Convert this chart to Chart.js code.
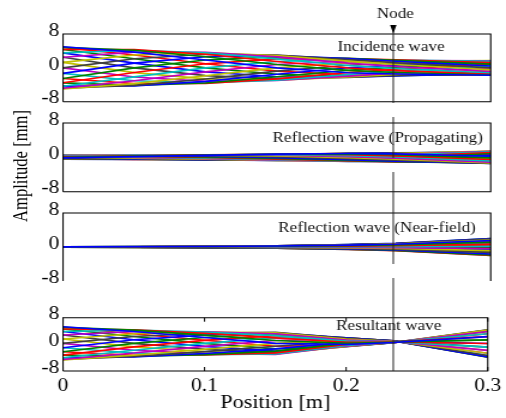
<!DOCTYPE html>
<html><head><meta charset="utf-8">
<script src="https://cdn.jsdelivr.net/npm/chart.js@4.4.1/dist/chart.umd.min.js"></script>
<style>
html,body{margin:0;padding:0;background:#fff;overflow:hidden;width:506px;height:418px;}
#fig{position:absolute;left:0;top:0;width:422px;height:418px;transform:scaleX(1.19905);transform-origin:0 0;}
.panel{position:absolute;left:0;top:0;width:422px;height:418px;}
#ylab{position:absolute;left:18px;top:166px;font-family:"Liberation Serif","Times New Roman",serif;font-size:16.6px;line-height:1;white-space:nowrap;color:#000;transform:translate(-50%,-50%) rotate(-90deg);}
</style></head>
<body>
<div id="fig">
  <div class="panel"><canvas id="c0"></canvas></div>
  <div class="panel"><canvas id="c1"></canvas></div>
  <div class="panel"><canvas id="c2"></canvas></div>
  <div class="panel"><canvas id="c3"></canvas></div>
  <div id="ylab">Amplitude [mm]</div>
</div>
<script>
// ---------- data ----------
const positions = [0, 0.05, 0.1, 0.15, 0.2, 0.2333, 0.3];
const nodePosition = 0.2333;
const yTickValues = [-8, 0, 8];
const xTickValues = [0, 0.1, 0.2, 0.3];
const panelTitles = ['Incidence wave', 'Reflection wave (Propagating)', 'Reflection wave (Near-field)', 'Resultant wave'];
const nodeLabel = 'Node';
const xAxisTitle = 'Position [m]';
const yAxisTitle = 'Amplitude [mm]';

const incidenceWave = [
  [5, 3.72, 1.85, 0, -1.15, -1.46, -1.75],
  [4.83, 4.15, 2.62, 0.78, -0.60, -1.09, -1.69],
  [4.33, 4.30, 3.20, 1.50, -0.02, -0.65, -1.52],
  [3.54, 4.15, 3.57, 2.12, 0.57, -0.17, -1.24],
  [2.5, 3.72, 3.70, 2.60, 1.11, 0.33, -0.88],
  [1.30, 3.04, 3.57, 2.90, 1.58, 0.80, -0.45],
  [0, 2.15, 3.20, 3.00, 1.95, 1.22, 0],
  [-1.30, 1.12, 2.61, 2.90, 2.18, 1.56, 0.45],
  [-2.5, 0, 1.84, 2.60, 2.27, 1.79, 0.88],
  [-3.54, -1.11, 0.95, 2.12, 2.19, 1.89, 1.24],
  [-4.33, -2.14, 0, 1.50, 1.98, 1.87, 1.52],
  [-4.83, -3.03, -0.96, 0.78, 1.62, 1.73, 1.69],
  [-5, -3.72, -1.85, 0, 1.15, 1.46, 1.75],
  [-4.83, -4.15, -2.62, -0.78, 0.60, 1.09, 1.69],
  [-4.33, -4.30, -3.20, -1.50, 0.02, 0.65, 1.52],
  [-3.54, -4.15, -3.57, -2.12, -0.57, 0.17, 1.24],
  [-2.5, -3.72, -3.70, -2.60, -1.11, -0.33, 0.88],
  [-1.30, -3.04, -3.57, -2.90, -1.58, -0.80, 0.45],
  [0, -2.15, -3.20, -3.00, -1.95, -1.22, 0],
  [1.30, -1.12, -2.61, -2.90, -2.18, -1.56, -0.45],
  [2.5, 0, -1.84, -2.60, -2.27, -1.79, -0.88],
  [3.54, 1.11, -0.95, -2.12, -2.19, -1.89, -1.24],
  [4.33, 2.14, 0, -1.50, -1.98, -1.87, -1.52],
  [4.83, 3.03, 0.96, -0.78, -1.62, -1.73, -1.69]
];
const reflectionPropagating = [
  [-0.08, 0.17, 0.46, 0.74, 0.89, 0.80, 0.25],
  [0.03, 0.28, 0.54, 0.74, 0.78, 0.59, -0.13],
  [0.15, 0.39, 0.60, 0.71, 0.61, 0.35, -0.50],
  [0.25, 0.45, 0.60, 0.62, 0.40, 0.08, -0.83],
  [0.34, 0.50, 0.57, 0.48, 0.17, -0.19, -1.11],
  [0.41, 0.49, 0.50, 0.32, -0.08, -0.45, -1.32],
  [0.44, 0.47, 0.39, 0.13, -0.32, -0.68, -1.43],
  [0.45, 0.41, 0.26, -0.06, -0.54, -0.87, -1.44],
  [0.42, 0.32, 0.11, -0.26, -0.73, -0.99, -1.37],
  [0.37, 0.21, -0.05, -0.43, -0.86, -1.05, -1.19],
  [0.29, 0.09, -0.20, -0.57, -0.93, -1.03, -0.94],
  [0.19, -0.04, -0.34, -0.68, -0.94, -0.95, -0.61],
  [0.08, -0.17, -0.46, -0.74, -0.89, -0.80, -0.25],
  [-0.03, -0.28, -0.54, -0.74, -0.78, -0.59, 0.13],
  [-0.15, -0.39, -0.60, -0.71, -0.61, -0.35, 0.50],
  [-0.25, -0.45, -0.60, -0.62, -0.40, -0.08, 0.83],
  [-0.34, -0.50, -0.57, -0.48, -0.17, 0.19, 1.11],
  [-0.41, -0.49, -0.50, -0.32, 0.08, 0.45, 1.32],
  [-0.44, -0.47, -0.39, -0.13, 0.32, 0.68, 1.43],
  [-0.45, -0.41, -0.26, 0.06, 0.54, 0.87, 1.44],
  [-0.42, -0.32, -0.11, 0.26, 0.73, 0.99, 1.37],
  [-0.37, -0.21, 0.05, 0.43, 0.86, 1.05, 1.19],
  [-0.29, -0.09, 0.20, 0.57, 0.93, 1.03, 0.94],
  [-0.19, 0.04, 0.34, 0.68, 0.94, 0.95, 0.61]
];
const reflectionNearField = [
  [0.03, 0.06, 0.11, 0.22, 0.43, 0.65, 1.53],
  [0.02, 0.05, 0.09, 0.17, 0.32, 0.49, 1.15],
  [0.01, 0.03, 0.05, 0.10, 0.19, 0.29, 0.68],
  [0, 0.01, 0.01, 0.03, 0.05, 0.07, 0.17],
  [-0.01, -0.01, -0.03, -0.05, -0.10, -0.15, -0.35],
  [-0.02, -0.03, -0.06, -0.12, -0.24, -0.36, -0.85],
  [-0.03, -0.05, -0.10, -0.19, -0.36, -0.55, -1.29],
  [-0.03, -0.07, -0.12, -0.24, -0.46, -0.70, -1.64],
  [-0.04, -0.08, -0.14, -0.27, -0.53, -0.80, -1.88],
  [-0.04, -0.08, -0.15, -0.29, -0.56, -0.85, -1.99],
  [-0.04, -0.08, -0.15, -0.29, -0.55, -0.84, -1.97],
  [-0.04, -0.07, -0.14, -0.26, -0.51, -0.77, -1.81],
  [-0.03, -0.06, -0.11, -0.22, -0.43, -0.65, -1.53],
  [-0.02, -0.05, -0.09, -0.17, -0.32, -0.49, -1.15],
  [-0.01, -0.03, -0.05, -0.10, -0.19, -0.29, -0.68],
  [0, -0.01, -0.01, -0.03, -0.05, -0.07, -0.17],
  [0.01, 0.01, 0.03, 0.05, 0.10, 0.15, 0.35],
  [0.02, 0.03, 0.06, 0.12, 0.24, 0.36, 0.85],
  [0.03, 0.05, 0.10, 0.19, 0.36, 0.55, 1.29],
  [0.03, 0.07, 0.12, 0.24, 0.46, 0.70, 1.64],
  [0.04, 0.08, 0.14, 0.27, 0.53, 0.80, 1.88],
  [0.04, 0.08, 0.15, 0.29, 0.56, 0.85, 1.99],
  [0.04, 0.08, 0.15, 0.29, 0.55, 0.84, 1.97],
  [0.04, 0.07, 0.14, 0.26, 0.51, 0.77, 1.81]
];
const resultantWave = [
  [5.3, 3.85, 2.05, 0.3, -0.03, 0.57, 2.33],
  [5.13, 4.26, 2.77, 1.15, 0.29, 0.63, 1.33],
  [4.63, 4.4, 3.33, 1.95, 0.65, 0.7, 0.25],
  [3.84, 4.26, 3.68, 2.63, 1.0, 0.77, -0.82],
  [2.8, 3.85, 3.8, 3.16, 1.32, 0.85, -1.82],
  [1.60, 3.20, 3.68, 3.49, 1.60, 0.92, -2.68],
  [0.3, 2.35, 3.33, 3.6, 1.82, 0.99, -3.34],
  [-1.0, 1.36, 2.78, 3.49, 1.96, 1.04, -3.76],
  [-2.2, 0.3, 2.05, 3.16, 2.0, 1.08, -3.9],
  [-3.24, -0.76, 1.20, 2.63, 1.96, 1.10, -3.76],
  [-4.03, -1.75, 0.3, 1.95, 1.82, 1.1, -3.34],
  [-4.53, -2.60, -0.61, 1.15, 1.61, 1.07, -2.69],
  [-4.7, -3.25, -1.45, 0.3, 1.33, 1.03, -1.83],
  [-4.53, -3.66, -2.17, -0.55, 1.01, 0.97, -0.83],
  [-4.03, -3.8, -2.73, -1.35, 0.65, 0.9, 0.25],
  [-3.24, -3.66, -3.08, -2.03, 0.30, 0.83, 1.32],
  [-2.2, -3.25, -3.2, -2.56, -0.02, 0.75, 2.32],
  [-1.0, -2.60, -3.08, -2.89, -0.30, 0.68, 3.18],
  [0.3, -1.75, -2.73, -3.0, -0.52, 0.61, 3.84],
  [1.60, -0.76, -2.18, -2.89, -0.66, 0.56, 4.26],
  [2.8, 0.3, -1.45, -2.56, -0.7, 0.52, 4.4],
  [3.84, 1.36, -0.60, -2.03, -0.66, 0.50, 4.26],
  [4.63, 2.35, 0.3, -1.35, -0.52, 0.5, 3.84],
  [5.13, 3.20, 1.21, -0.55, -0.31, 0.53, 3.19]
];
const panelSeries = [incidenceWave, reflectionPropagating, reflectionNearField, resultantWave];

// ---------- style / layout ----------
const S = 506 / 422;           // horizontal stretch of the figure
const FONT = '"Liberation Serif","Times New Roman",serif';
const lineColors = ['rgb(0,0,255)', 'rgb(0,128,0)', 'rgb(255,0,0)', 'rgb(0,191,191)',
                    'rgb(191,0,191)', 'rgb(191,191,0)', 'rgb(64,64,64)'];
const panelBoxes = [ {top: 34, bottom: 101.7}, {top: 123, bottom: 191.7},
                     {top: 213, bottom: 281}, {top: 317.7, bottom: 371} ];
const titlePos = [ {x: 391, y: 50.7}, {x: 377.7, y: 141.7}, {x: 377, y: 232.3}, {x: 388.7, y: 330} ];
const Y_AXIS_W = 63 / S;
const RIGHT_PAD = 422 - 490.7 / S;
const X_AXIS_H = 45;

document.getElementById('ylab').textContent = yAxisTitle;

const panelPlugin = {
  id: 'panelDeco',
  afterDatasetsDraw(chart, args, opts) {
    const {ctx, chartArea: a} = chart;
    ctx.save();
    ctx.strokeStyle = '#000';
    ctx.lineWidth = 1.1;
    ctx.beginPath();
    ctx.moveTo(a.left, a.bottom); ctx.lineTo(a.left, a.top); ctx.lineTo(a.right, a.top); ctx.lineTo(a.right, a.bottom);
    if (opts.bottomLine) ctx.lineTo(a.left, a.bottom);
    ctx.stroke();
    if (opts.innerTicks) {
      const xs = chart.scales.x;
      ctx.lineWidth = 1;
      ctx.beginPath();
      xTickValues.forEach(v => {
        const px = xs.getPixelForValue(v);
        ctx.moveTo(px, a.top); ctx.lineTo(px, a.top + 4);
        ctx.moveTo(px, a.bottom); ctx.lineTo(px, a.bottom - 4);
      });
      ctx.stroke();
    }
    ctx.fillStyle = '#111';
    ctx.font = '14.3px ' + FONT;
    ctx.textAlign = 'center';
    ctx.textBaseline = 'alphabetic';
    ctx.fillText(opts.title, opts.tx / S, opts.ty);
    if (opts.node) {
      const px = chart.scales.x.getPixelForValue(nodePosition);
      ctx.strokeStyle = '#222';
      ctx.lineWidth = 1;
      ctx.beginPath();
      [[25, 103], [117, 158], [172, 264], [278, 371]].forEach(([y0, y1]) => { ctx.moveTo(px, y0); ctx.lineTo(px, y1); });
      ctx.stroke();
      ctx.fillStyle = '#000';
      ctx.beginPath();
      ctx.moveTo(px - 2.7, 25); ctx.lineTo(px + 2.7, 25); ctx.lineTo(px, 33.5); ctx.closePath();
      ctx.fill();
      ctx.fillStyle = '#111';
      ctx.fillText(nodeLabel, px + 2 / S, 18.3);
    }
    ctx.restore();
  }
};

panelSeries.forEach((series, p) => {
  const last = p === 3;
  const box = panelBoxes[p];
  const datasets = series.map((vals, i) => ({
    data: positions.map((x, k) => ({x: x, y: vals[k]})),
    borderColor: lineColors[i % lineColors.length],
    borderWidth: 1.6,
    pointRadius: 0,
    tension: 0,
    fill: false
  }));
  new Chart(document.getElementById('c' + p), {
    type: 'line',
    data: {datasets},
    plugins: [panelPlugin],
    options: {
      responsive: true,
      maintainAspectRatio: false,
      animation: false,
      devicePixelRatio: 1,
      events: [],
      layout: {padding: {left: 0, right: RIGHT_PAD, top: box.top,
               bottom: last ? 418 - box.bottom - X_AXIS_H : 418 - box.bottom}},
      plugins: {
        legend: {display: false},
        tooltip: {enabled: false},
        panelDeco: {title: panelTitles[p], tx: titlePos[p].x, ty: titlePos[p].y,
                    bottomLine: p !== 2, innerTicks: last, node: last}
      },
      scales: {
        x: {
          type: 'linear', min: 0, max: 0.3,
          display: last,
          afterBuildTicks: s => { s.ticks = xTickValues.map(v => ({value: v})); },
          afterFit: s => { if (last) s.height = X_AXIS_H; },
          grid: {display: false, drawTicks: false},
          border: {display: false},
          ticks: {color: '#000', font: {family: FONT, size: 18}, padding: 4, maxRotation: 0,
                  callback: v => String(v)},
          title: {display: last, text: xAxisTitle, color: '#000', font: {family: FONT, size: 18.5},
                  padding: {top: 0, bottom: 2}}
        },
        y: {
          type: 'linear', min: -8, max: 8,
          afterBuildTicks: s => { s.ticks = yTickValues.map(v => ({value: v})); },
          afterFit: s => { s.width = Y_AXIS_W; },
          grid: {display: false, drawTicks: false},
          border: {display: false},
          ticks: {color: '#000', font: {family: FONT, size: 18, lineHeight: 0.34}, padding: 3,
                  callback: v => [String(v), '']}
        }
      }
    }
  });
});
</script>
</body></html>
